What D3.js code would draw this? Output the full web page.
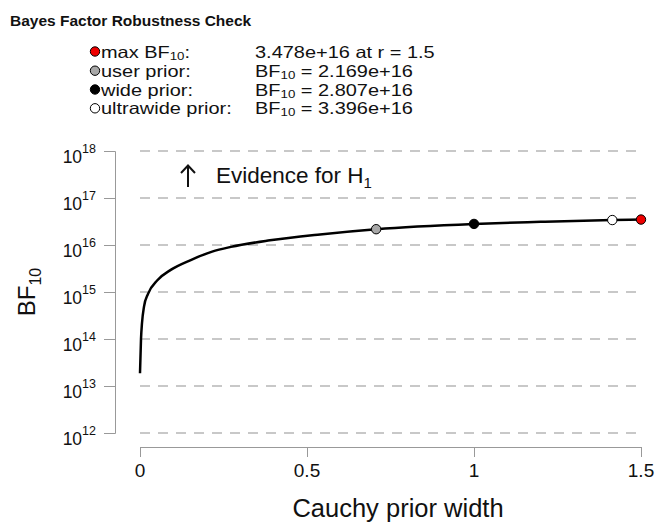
<!doctype html>
<html lang='en'>
<head>
  <meta charset='utf-8'>
  <title>Bayes Factor Robustness Check</title>
  <style>
    html, body { margin: 0; padding: 0; background: #fff; }
    text { font-family: 'Liberation Sans', Arial, sans-serif; fill: #111; }
    line.grid { stroke: #c8c8c8; stroke-width: 2; stroke-dasharray: 10 8; }
    .axis path, .axis line { stroke: #999; stroke-width: 1; }
  </style>
</head>
<body>
  <script src='https://d3js.org/d3.v7.min.js'></script>
  <script>
    // curve: prior width r, log10 BF10
    const curveR = [0, 0.003, 0.006, 0.012, 0.024, 0.052, 0.092, 0.152, 0.216, 0.272, 0.389, 0.539, 0.707, 1, 1.2, 1.414, 1.5]
    const curveLogBF = [13.27, 14.0, 14.34, 14.69, 14.96, 15.25, 15.47, 15.68, 15.86, 15.96, 16.10, 16.225, 16.336, 16.448, 16.493, 16.531, 16.541]

    const pointR = [0.707, 1, 1.414, 1.5]
    const pointBF = [2.169e16, 2.807e16, 3.396e16, 3.478e16]
    const pointFill = ['#a8a8a8', '#000000', '#ffffff', '#ee0000']

    const legendLabels = ['max BF', 'user prior:', 'wide prior:', 'ultrawide prior:']
    const legendValues = ['3.478e+16 at r = 1.5', '2.169e+16', '2.807e+16', '3.396e+16']
    const legendFill = ['#ee0000', '#a8a8a8', '#000000', '#ffffff']

    const yExponents = [12, 13, 14, 15, 16, 17, 18]
    const xTicks = [0, 0.5, 1, 1.5]

    const width = 655
    const height = 525

    const svg = d3.select('body').append('svg')
      .attr('width', width)
      .attr('height', height)

    const x = d3.scaleLinear().domain([0, 1.5]).range([140, 641])
    const y = d3.scaleLog().domain([1e12, 1e18]).range([433, 151])

    svg.append('text')
      .attr('x', 10)
      .attr('y', 26)
      .style('font-weight', 'bold')
      .style('font-size', '15.5px')
      .text('Bayes Factor Robustness Check')

    // grid
    svg.append('g')
      .selectAll('line')
      .data(yExponents)
      .join('line')
      .attr('class', 'grid')
      .attr('x1', x(0))
      .attr('x2', x(1.5))
      .attr('y1', d => y(Math.pow(10, d)))
      .attr('y2', d => y(Math.pow(10, d)))

    // y axis
    svg.append('g')
      .attr('class', 'axis')
      .attr('transform', 'translate(115,0)')
      .call(d3.axisLeft(y).tickValues(yExponents.map(e => Math.pow(10, e))).tickSize(11).tickFormat(''))

    const yLab = svg.append('g')
      .selectAll('text')
      .data(yExponents)
      .join('text')
      .attr('x', 96)
      .attr('y', d => y(Math.pow(10, d)) + 11.5)
      .attr('text-anchor', 'end')
      .style('font-size', '17.5px')
    yLab.append('tspan').text('10')
    yLab.append('tspan')
      .attr('dy', -10)
      .style('font-size', '12.5px')
      .text(d => d)

    // x axis
    svg.append('g')
      .attr('class', 'axis')
      .attr('transform', 'translate(0,447)')
      .call(d3.axisBottom(x).tickValues(xTicks).tickSize(10).tickSizeOuter(10).tickFormat(''))

    svg.append('g')
      .selectAll('text')
      .data(xTicks)
      .join('text')
      .attr('x', d => x(d))
      .attr('y', 477)
      .attr('text-anchor', 'middle')
      .style('font-size', '19px')
      .text(d => d)

    svg.append('text')
      .attr('x', 398)
      .attr('y', 517)
      .attr('text-anchor', 'middle')
      .style('font-size', '25.5px')
      .text('Cauchy prior width')

    const yTitle = svg.append('text')
      .attr('transform', 'translate(34.5,292) rotate(-90)')
      .attr('text-anchor', 'middle')
      .style('font-size', '24px')
    yTitle.append('tspan').text('BF')
    yTitle.append('tspan').attr('dy', 6).style('font-size', '16px').text('10')

    // evidence annotation
    svg.append('line')
      .attr('x1', 188).attr('x2', 188)
      .attr('y1', 187).attr('y2', 166)
      .attr('stroke', '#111').attr('stroke-width', 2)
    svg.append('path')
      .attr('d', 'M181,173 L188,165.5 L195,173')
      .attr('fill', 'none').attr('stroke', '#111').attr('stroke-width', 2)
    const ev = svg.append('text')
      .attr('x', 216)
      .attr('y', 183)
      .style('font-size', '22.5px')
    ev.append('tspan').text('Evidence for H')
    ev.append('tspan').attr('dy', 5).style('font-size', '15px').text('1')

    // curve
    const line = d3.line()
      .x(d => x(d[0]))
      .y(d => y(Math.pow(10, d[1])))
      .curve(d3.curveMonotoneX)

    svg.append('path')
      .datum(curveR.map((r, i) => [r, curveLogBF[i]]))
      .attr('d', line)
      .attr('fill', 'none')
      .attr('stroke', '#000')
      .attr('stroke-width', 2.5)

    svg.append('g')
      .selectAll('circle')
      .data(pointR)
      .join('circle')
      .attr('cx', d => x(d))
      .attr('cy', (d, i) => y(pointBF[i]))
      .attr('r', 4.7)
      .attr('fill', (d, i) => pointFill[i])
      .attr('stroke', '#000')
      .attr('stroke-width', 1)

    // legend (glyphs in the picture are wider than Arial, so stretch a bit)
    const rowY = [57.5, 76.7, 95.5, 114.3]
    const legend = svg.append('g')
      .selectAll('g')
      .data(legendLabels)
      .join('g')
      .attr('transform', (d, i) => `translate(0,${rowY[i]})`)

    legend.append('circle')
      .attr('cx', 95)
      .attr('cy', -6)
      .attr('r', 4.7)
      .attr('fill', (d, i) => legendFill[i])
      .attr('stroke', '#000')
      .attr('stroke-width', 1)

    legend.each(function (d, i) {
      const g = d3.select(this)
      const t = g.append('text')
        .attr('transform', 'translate(101,0) scale(1.21,1)')
        .style('font-size', '16.5px')
      t.append('tspan').text(d)
      if (i === 0) {
        t.append('tspan').attr('dy', 2).style('font-size', '11px').text('10')
        t.append('tspan').attr('dy', -2).text(':')
      }
      const v = g.append('text')
        .attr('transform', 'translate(255,0) scale(1.21,1)')
        .style('font-size', '16.5px')
      if (i === 0) {
        v.text(legendValues[i])
      } else {
        v.append('tspan').text('BF')
        v.append('tspan').attr('dy', 2).style('font-size', '11px').text('10')
        v.append('tspan').attr('dy', -2).text(' = ' + legendValues[i])
      }
    })
  </script>
</body>
</html>
